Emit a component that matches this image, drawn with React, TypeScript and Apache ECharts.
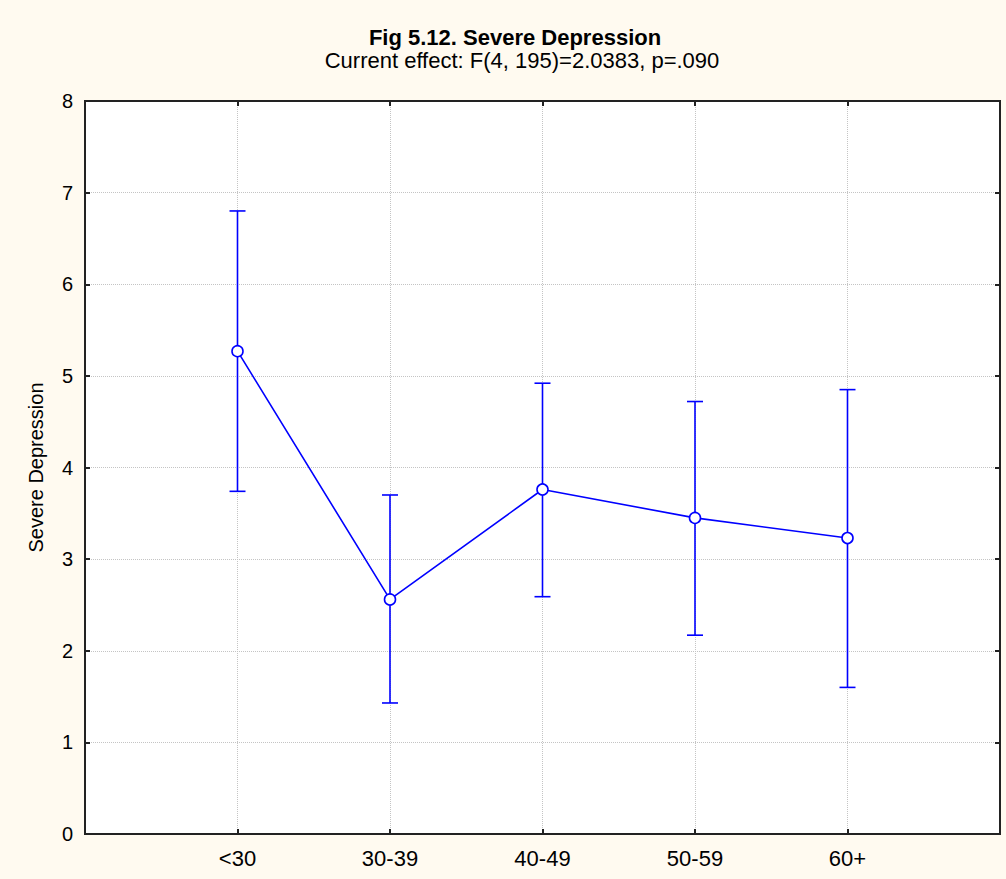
import React, { useEffect, useRef } from "react";
import * as echarts from "echarts";

// Age groups and the mean score with its confidence limits
const ageGroups = ["<30", "30-39", "40-49", "50-59", "60+"];
const means = [5.27, 2.56, 3.76, 3.45, 3.23];
const upperLimits = [6.8, 3.7, 4.92, 4.72, 4.85];
const lowerLimits = [3.74, 1.43, 2.59, 2.17, 1.6];
const yTicks = [0, 1, 2, 3, 4, 5, 6, 7, 8];

const BLUE = "#0000ff";
const AXIS = "#222222";
const FONT = "'Liberation Sans', Arial, sans-serif";

export default function App() {
  const ref = useRef<HTMLDivElement>(null);

  useEffect(() => {
    if (!ref.current) return;
    const chart = echarts.init(ref.current, undefined, { renderer: "svg" });

    const points = ageGroups.map((_, i) => [i + 1, means[i]]);
    const bars = ageGroups.map((_, i) => [i + 1, lowerLimits[i], upperLimits[i]]);

    const tickAxisBase = {
      type: "value" as const,
      interval: 1,
      axisLine: { show: true, onZero: false, lineStyle: { color: AXIS, width: 2 } },
      axisTick: { show: true, inside: true, length: 5, lineStyle: { color: AXIS, width: 2 } },
    };

    chart.setOption({
      animation: false,
      backgroundColor: "#fffaf0",
      textStyle: { fontFamily: FONT },
      title: [
        {
          text: "Fig 5.12. Severe Depression",
          left: 510,
          textAlign: "center",
          top: 21,
          textStyle: { fontFamily: FONT, fontSize: 22, fontWeight: "bold", color: "#000", lineHeight: 22 },
        },
        {
          text: "Current effect: F(4, 195)=2.0383, p=.090",
          left: 517,
          textAlign: "center",
          top: 44,
          textStyle: { fontFamily: FONT, fontSize: 22, fontWeight: "normal", color: "#000", lineHeight: 22 },
        },
      ],
      grid: {
        left: 85,
        right: 6,
        top: 101,
        bottom: 45,
        show: true,
        backgroundColor: "#ffffff",
        borderColor: AXIS,
        borderWidth: 2,
      },
      xAxis: [
        {
          ...tickAxisBase,
          position: "bottom",
          min: 0,
          max: ageGroups.length + 1,
          axisLabel: {
            fontFamily: FONT,
            fontSize: 22,
            color: "#000",
            margin: 13,
            formatter: (v: number) => ageGroups[v - 1] ?? "",
          },
          splitLine: { show: true, lineStyle: { color: "#c4c4c4", type: [1, 1], width: 1 } },
        },
        {
          ...tickAxisBase,
          position: "top",
          min: 0,
          max: ageGroups.length + 1,
          axisLabel: { show: false },
          splitLine: { show: false },
        },
      ],
      yAxis: [
        {
          ...tickAxisBase,
          position: "left",
          min: yTicks[0],
          max: yTicks[yTicks.length - 1],
          name: "Severe Depression",
          nameLocation: "middle",
          nameRotate: 90,
          nameGap: 39,
          nameTextStyle: { fontFamily: FONT, fontSize: 20, color: "#000" },
          axisLabel: { fontFamily: FONT, fontSize: 20, color: "#000", margin: 12 },
          splitLine: { show: true, lineStyle: { color: "#c4c4c4", type: [1, 1], width: 1 } },
        },
        {
          ...tickAxisBase,
          position: "right",
          min: yTicks[0],
          max: yTicks[yTicks.length - 1],
          axisLabel: { show: false },
          splitLine: { show: false },
        },
      ],
      series: [
        {
          type: "custom",
          z: 2,
          data: bars,
          renderItem: (_params: any, api: any) => {
            const x = api.value(0);
            const lo = api.coord([x, api.value(1)]);
            const hi = api.coord([x, api.value(2)]);
            const cap = 8;
            const style = { stroke: BLUE, lineWidth: 1.6 };
            return {
              type: "group",
              children: [
                { type: "line", shape: { x1: hi[0], y1: hi[1], x2: lo[0], y2: lo[1] }, style },
                { type: "line", shape: { x1: hi[0] - cap, y1: hi[1], x2: hi[0] + cap, y2: hi[1] }, style },
                { type: "line", shape: { x1: lo[0] - cap, y1: lo[1], x2: lo[0] + cap, y2: lo[1] }, style },
              ],
            };
          },
        },
        {
          type: "line",
          z: 3,
          data: points,
          symbol: "circle",
          symbolSize: 11,
          lineStyle: { color: BLUE, width: 1.6 },
          itemStyle: { color: "#ffffff", borderColor: BLUE, borderWidth: 1.6 },
        },
      ],
    });

    return () => chart.dispose();
  }, []);

  return (
    <div
      ref={ref}
      style={{ position: "fixed", left: 0, top: 0, width: 1006, height: 879 }}
    />
  );
}
